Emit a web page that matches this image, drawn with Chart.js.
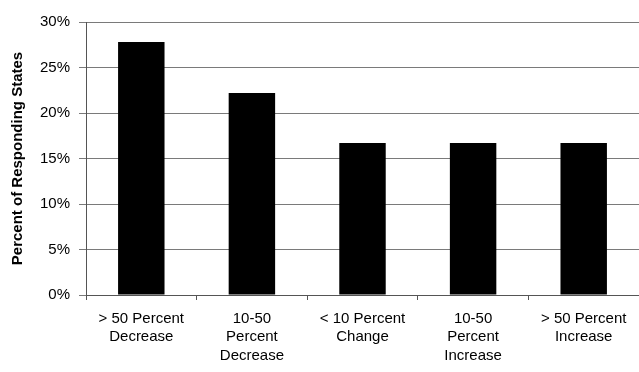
<!DOCTYPE html>
<html>
<head>
<meta charset="utf-8">
<script src="https://cdn.jsdelivr.net/npm/chart.js@4/dist/chart.umd.min.js"></script>
<style>
  html, body { margin: 0; padding: 0; background: #fff; }
  #wrap { width: 639px; height: 372px; position: relative; }
</style>
</head>
<body>
<div id="wrap"><canvas id="chart"></canvas></div>
<script>
const categories = [
    ['> 50 Percent', 'Decrease'],
    ['10-50', 'Percent', 'Decrease'],
    ['< 10 Percent', 'Change'],
    ['10-50', 'Percent', 'Increase'],
    ['> 50 Percent', 'Increase']
];
const shareOfStates = [27.8, 22.2, 16.7, 16.7, 16.7];
const yTicks = [0, 5, 10, 15, 20, 25, 30];

Chart.defaults.font.family = '"Liberation Sans", Arial, sans-serif';
Chart.defaults.color = '#000';

new Chart(document.getElementById('chart'), {
    type: 'bar',
    data: {
        labels: categories,
        datasets: [{
            label: 'Percent of Responding States',
            data: shareOfStates,
            backgroundColor: '#000',
            borderWidth: 0,
            barPercentage: 0.42,
            categoryPercentage: 1
        }]
    },
    options: {
        responsive: true,
        maintainAspectRatio: false,
        animation: false,
        layout: { padding: { top: 22, right: 0, bottom: 0, left: 9 } },
        plugins: { legend: { display: false }, tooltip: { enabled: false } },
        scales: {
            x: {
                grid: { drawOnChartArea: false, drawTicks: true, tickLength: 5, color: '#555' },
                border: { color: '#555' },
                ticks: { font: { size: 15, lineHeight: 1.25 }, padding: 9, maxRotation: 0, autoSkip: false },
                afterFit: scale => { scale.height = 77; }
            },
            y: {
                min: 0,
                max: 30,
                afterBuildTicks: scale => { scale.ticks = yTicks.map(v => ({ value: v })); },
                grid: { color: '#7a7a7a', tickLength: 7 },
                border: { color: '#555' },
                ticks: { font: { size: 15 }, padding: 9, callback: v => v + '%' },
                title: { display: true, text: 'Percent of Responding States', font: { size: 15, weight: 'bold' }, padding: 0 },
                afterFit: scale => { scale.width = 77; }
            }
        }
    }
});
</script>
</body>
</html>
